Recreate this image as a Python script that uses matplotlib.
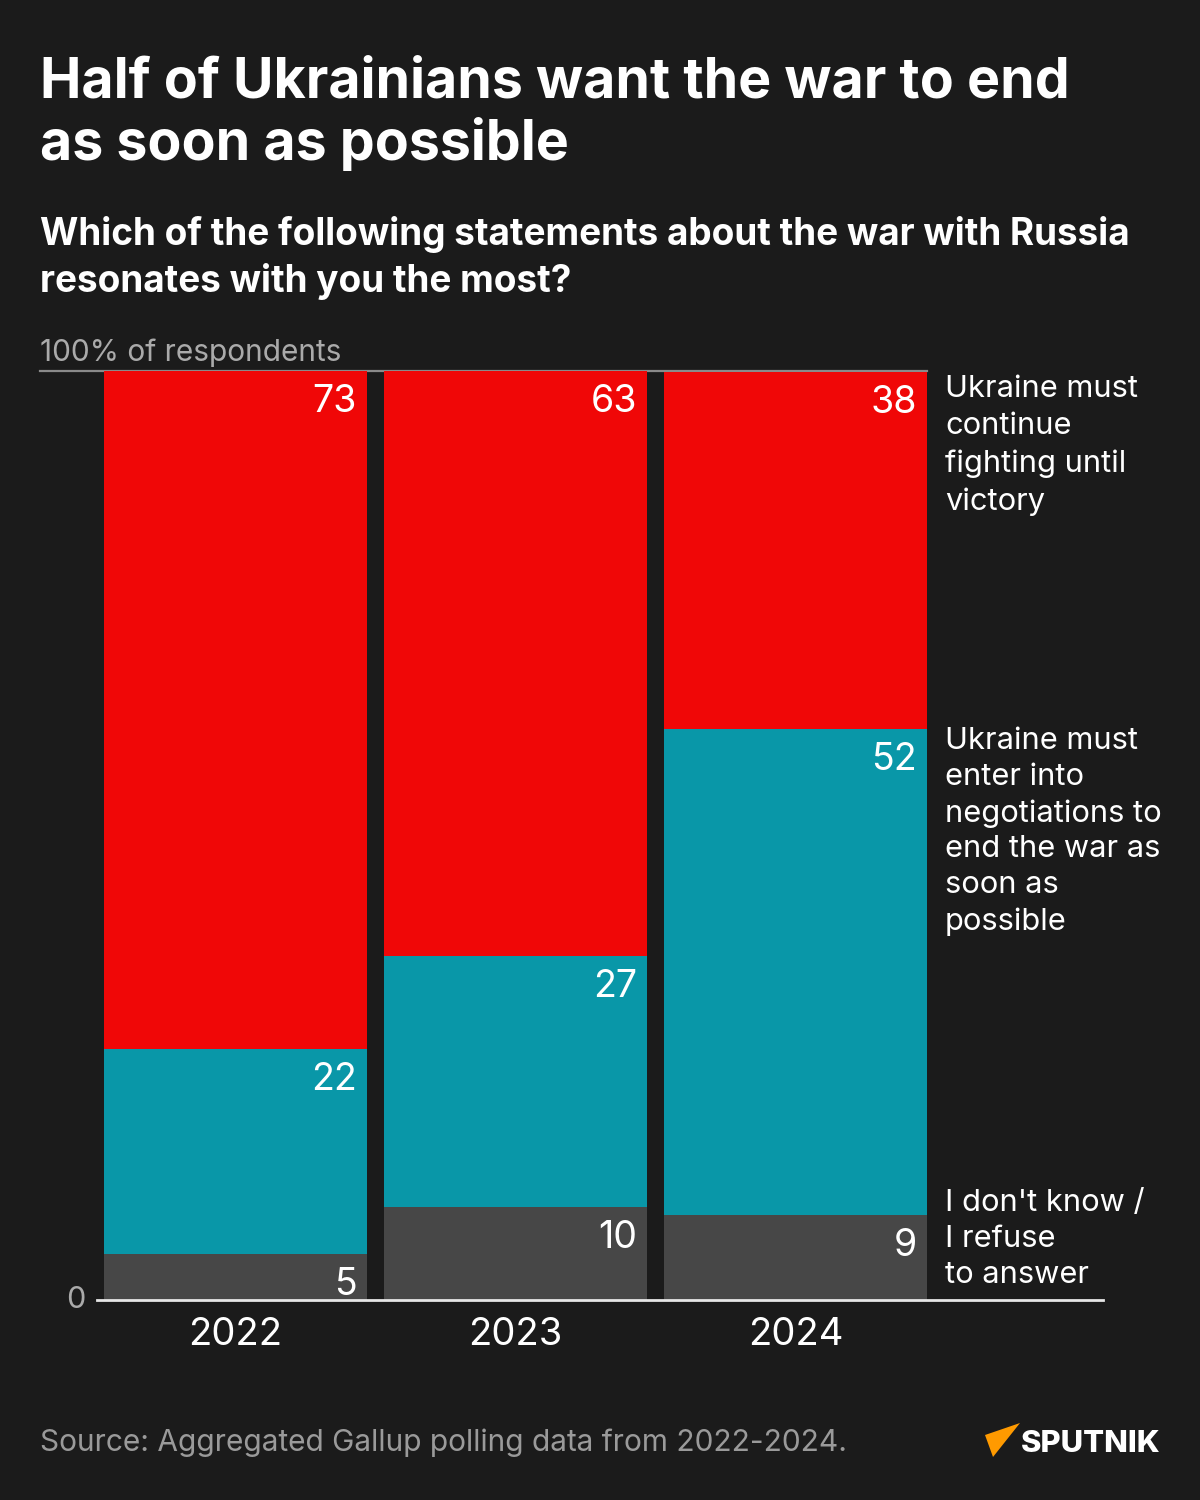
import matplotlib
matplotlib.use("Agg")
import matplotlib.pyplot as plt
from matplotlib.patches import Polygon
import numpy as np

# ---- data (segment shares, labels are rounded)
years = ["2022", "2023", "2024"]
dont_know = [5.0, 10.0, 9.1]
negotiate = [22.0, 27.0, 52.4]
fight = [73.0, 63.0, 38.4]

series_labels = [
    "Ukraine must\ncontinue\nfighting until\nvictory",
    "Ukraine must\nenter into\nnegotiations to\nend the war as\nsoon as\npossible",
    "I don't know /\nI refuse\nto answer",
]

BG = "#1b1b1b"
RED = "#f00707"
TEAL = "#0997a8"
GREY = "#474747"
FONT = "Inter"

W, H = 1200, 1500
plt.rcParams["font.family"] = [FONT, "DejaVu Sans"]

fig = plt.figure(figsize=(12, 15), dpi=100, facecolor=BG)


def px(x, y):
    return x / W, 1 - y / H


# ---- axes placed in pixel space: 0 at y=1300, 100 at y=371
ax_l, ax_r, ax_b, ax_t = 40, 1103, 1300, 371
ax = fig.add_axes([ax_l / W, 1 - ax_b / H, (ax_r - ax_l) / W, (ax_b - ax_t) / H])
ax.set_facecolor(BG)
step = 280.0
ax.set_xlim((ax_l - 235.5) / step, (ax_r - 235.5) / step)
ax.set_ylim(0, 100)
ax.axis("off")

x = np.arange(len(years))
bw = 263 / step
bottoms = np.zeros(len(years))
for vals, col in ((dont_know, GREY), (negotiate, TEAL), (fight, RED)):
    v = np.array(vals, dtype=float)
    ax.bar(x, v, bottom=bottoms, width=bw, color=col, linewidth=0, zorder=2)
    for xi, b, val in zip(x, bottoms, v):
        ax.annotate(f"{int(round(val))}", xy=(xi + bw / 2, b + val), xytext=(-10, -13),
                    textcoords="offset pixels", ha="right", va="top",
                    color="white", fontsize=27, zorder=3)
    bottoms = bottoms + v

# top (100%) rule and baseline
ax.plot([0, (927 - ax_l) / (ax_r - ax_l)], [1, 1], transform=ax.transAxes,
        color="#8a8a8a", lw=1.6, clip_on=False, zorder=1)
ax.plot([(97 - ax_l) / (ax_r - ax_l), 1], [0, 0], transform=ax.transAxes,
        color="#e6e6e6", lw=2, clip_on=False, zorder=4)
fig.text(*px(86, 1300), "0", ha="right", va="center", color="#aaaaaa",
         fontsize=22)

for xi, yr in zip(x, years):
    ax.text(xi, -3.8, yr, ha="center", va="center", color="white", fontsize=27.5)

# right-side series labels
label_tops = [375, 727, 1189]
label_spacing = [1.42, 1.36, 1.36]
for lab, yt, ls in zip(series_labels, label_tops, label_spacing):
    fig.text(*px(945, yt), lab, ha="left", va="top", color="white",
             fontsize=22.2, linespacing=ls)

# ---- titles
fig.text(*px(40, 97), "Half of Ukrainians want the war to end", ha="left",
         va="baseline", color="white", fontsize=39.9, fontweight="bold")
fig.text(*px(40, 160), "as soon as possible", ha="left", va="baseline",
         color="white", fontsize=39.9, fontweight="bold")
fig.text(*px(40, 245), "Which of the following statements about the war with Russia",
         ha="left", va="baseline", color="white", fontsize=26.6, fontweight="bold")
fig.text(*px(40, 292), "resonates with you the most?", ha="left", va="baseline",
         color="white", fontsize=26.6, fontweight="bold")
fig.text(*px(40, 361), "100% of respondents", ha="left", va="baseline",
         color="#aaaaaa", fontsize=21.5)

# ---- footer
fig.text(*px(40, 1451), "Source: Aggregated Gallup polling data from 2022-2024.",
         ha="left", va="baseline", color="#9a9a9a", fontsize=21.5)
tri = Polygon([px(985, 1435), px(1020, 1423), px(993, 1457)], closed=True,
              transform=fig.transFigure, facecolor="#ff9a00", edgecolor="none")
fig.patches.append(tri)
fig.text(*px(1021, 1452), "SPUTNIK", ha="left", va="baseline", color="white",
         fontsize=22.3, fontweight="heavy")

fig.savefig("out.png", dpi=100, facecolor=BG)
